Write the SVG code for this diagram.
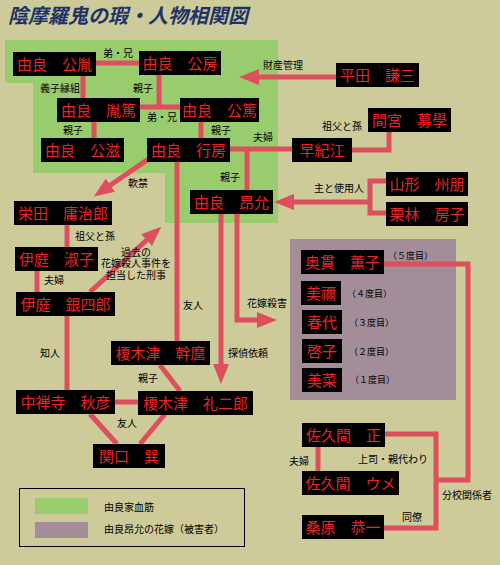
<svg xmlns="http://www.w3.org/2000/svg" width="500" height="565" viewBox="0 0 500 565">
<style>
.bx{fill:#000}
.nt{font-family:"Noto Sans CJK JP","Noto Sans CJK SC",sans-serif;font-size:15px;fill:#E82424;text-anchor:middle}
.lb{font-family:"Noto Sans CJK JP","Noto Sans CJK SC",sans-serif;font-size:10px;fill:#000}
.ml{font-family:"Liberation Sans","Noto Sans CJK JP",sans-serif;font-size:10px;fill:#000;text-anchor:middle}
.ln{fill:none;stroke:#DE4E5E;stroke-width:5}
.ar{marker-end:url(#ah)}
</style>
<defs>
<marker id="ah" viewBox="0 0 20 16" markerWidth="20" markerHeight="16" markerUnits="userSpaceOnUse" refX="1" refY="8" orient="auto">
<path d="M0,0 L20,8 L0,16 z" fill="#DE4E5E"/>
</marker>
</defs>
<rect x="0" y="0" width="500" height="565" fill="#CCCB99"/>
<text x="8" y="23" font-family="'Noto Sans CJK JP',sans-serif" font-size="20" font-weight="bold" font-style="italic" fill="#1E3268">陰摩羅鬼の瑕・人物相関図</text>
<g id="areas">
<polygon points="5,40 278,40 278,223 165,223 165,173 33,173 33,83 5,83" fill="#99CC6C"/>
<rect x="290" y="239" width="166" height="161" fill="#A38D99"/>
</g>
<g id="connectors">
<path class="ln" d="M96,63 H139"/>
<path class="ln" d="M83,76 V98"/>
<path class="ln" d="M159,75 V107 M140,107 H180"/>
<path class="ln" d="M94,122 V138"/>
<path class="ln" d="M201,122 V138"/>
<path class="ln" d="M230,149 H292"/>
<path class="ln" d="M247,149 V190"/>
<path class="ln" d="M352,150 H389 V132"/>
<path class="ln ar" d="M336,77 H258"/>
<path class="ln" d="M177,162 V341"/>
<path class="ln" d="M387,181 H370 V213 H387"/>
<path class="ln ar" d="M370,202 H293"/>
<path class="ln ar" d="M152,156.6 L109.5,185.7"/>
<path class="ln" d="M67,225 V247"/>
<path class="ln" d="M37,270 V292"/>
<path class="ln" d="M67,316 V390"/>
<path class="ln ar" d="M90,292 L147.3,239.5"/>
<path class="ln ar" d="M221,214 V365"/>
<path class="ln ar" d="M237,214 V320 H258"/>
<path class="ln" d="M115,402 H138"/>
<path class="ln" d="M160,365 L180,391"/>
<path class="ln" d="M90,414 L117,444"/>
<path class="ln" d="M165,414 L140,444"/>
<path class="ln" d="M384,264 H468 V480 H436"/>
<path class="ln" d="M385,434 H436 V528 H384"/>
<path class="ln" d="M318,447 V471"/>
</g>
<g id="labels" class="lb">
<text x="103" y="57">弟・兄</text>
<text x="40" y="92">義子縁組</text>
<text x="133" y="92">親子</text>
<text x="147" y="121">弟・兄</text>
<text x="63" y="134">親子</text>
<text x="211" y="134">親子</text>
<text x="253" y="141">夫婦</text>
<text x="263" y="69">財産管理</text>
<text x="322" y="130">祖父と孫</text>
<text x="220" y="181">親子</text>
<text x="314" y="192">主と使用人</text>
<text x="128" y="187">軟禁</text>
<text x="75" y="240">祖父と孫</text>
<text class="ml"><tspan x="136" y="255.5">過去の</tspan><tspan x="136" y="267">花嫁殺人事件を</tspan><tspan x="136" y="278.5">担当した刑事</tspan></text>
<text x="44" y="284">夫婦</text>
<text x="40" y="357">知人</text>
<text x="183" y="309">友人</text>
<text x="247" y="307">花嫁殺害</text>
<text x="228" y="357">探偵依頼</text>
<text x="138" y="382">親子</text>
<text x="117" y="427">友人</text>
<text x="388" y="259" font-size="9">（５度目）</text>
<text x="347" y="297" font-size="9">（４度目）</text>
<text x="349" y="326" font-size="9">（３度目）</text>
<text x="349" y="355" font-size="9">（２度目）</text>
<text x="350" y="383" font-size="9">（１度目）</text>
<text x="289" y="465">夫婦</text>
<text x="358" y="463">上司・親代わり</text>
<text x="442" y="499">分校関係者</text>
<text x="402" y="521">同僚</text>
</g>
<g id="n-kimitane"><rect class="bx" x="13" y="52" width="83" height="24"/><text class="nt" x="54.5" y="69.5">由良　公胤</text></g>
<g id="n-kimifusa"><rect class="bx" x="139" y="51" width="82" height="24"/><text class="nt" x="180" y="68.5">由良　公房</text></g>
<g id="n-tanetoku"><rect class="bx" x="57" y="98" width="83" height="24"/><text class="nt" x="98.5" y="115.5">由良　胤篤</text></g>
<g id="n-kimiatsu"><rect class="bx" x="180" y="98" width="79" height="24"/><text class="nt" x="219.5" y="115.5">由良　公篤</text></g>
<g id="n-kimishige"><rect class="bx" x="41" y="138" width="83" height="24"/><text class="nt" x="82.5" y="155.5">由良　公滋</text></g>
<g id="n-yukifusa"><rect class="bx" x="147" y="138" width="83" height="24"/><text class="nt" x="188.5" y="155.5">由良　行房</text></g>
<g id="n-hirata"><rect class="bx" x="336" y="63" width="83" height="24"/><text class="nt" x="377.5" y="80.5">平田　謙三</text></g>
<g id="n-mamiya"><rect class="bx" x="368" y="108" width="83" height="24"/><text class="nt" x="409.5" y="125.5">間宮　募學</text></g>
<g id="n-sakie"><rect class="bx" x="292" y="138" width="60" height="24"/><text class="nt" x="322" y="155.5">早紀江</text></g>
<g id="n-akimitsu"><rect class="bx" x="190" y="190" width="83" height="24"/><text class="nt" x="231.5" y="207.5">由良　昂允</text></g>
<g id="n-yamagata"><rect class="bx" x="386" y="172" width="82" height="24"/><text class="nt" x="427" y="189.5">山形　州朋</text></g>
<g id="n-kuribayashi"><rect class="bx" x="386" y="202" width="82" height="24"/><text class="nt" x="427" y="219.5">栗林　房子</text></g>
<g id="n-shibata"><rect class="bx" x="14" y="201" width="98" height="24"/><text class="nt" x="63" y="218.5">栄田　庸治郎</text></g>
<g id="n-toshiko"><rect class="bx" x="15" y="247" width="83" height="24"/><text class="nt" x="56.5" y="264.5">伊庭　淑子</text></g>
<g id="n-ginshiro"><rect class="bx" x="16" y="292" width="99" height="24"/><text class="nt" x="65.5" y="309.5">伊庭　銀四郎</text></g>
<g id="n-chuzenji"><rect class="bx" x="16" y="390" width="99" height="24"/><text class="nt" x="65.5" y="407.5">中禅寺　秋彦</text></g>
<g id="n-kanmaro"><rect class="bx" x="111" y="341" width="99" height="24"/><text class="nt" x="160.5" y="358.5">榎木津　幹麿</text></g>
<g id="n-reijiro"><rect class="bx" x="138" y="391" width="115" height="24"/><text class="nt" x="195.5" y="408.5">榎木津　礼二郎</text></g>
<g id="n-sekiguchi"><rect class="bx" x="93" y="444" width="72" height="24"/><text class="nt" x="129" y="461.5">関口　巽</text></g>
<g id="n-okunuki"><rect class="bx" x="301" y="250" width="83" height="24"/><text class="nt" x="342.5" y="267.5">奥貫　薫子</text></g>
<g id="n-mine"><rect class="bx" x="301" y="281" width="40" height="24"/><text class="nt" x="321" y="298.5">美禰</text></g>
<g id="n-haruyo"><rect class="bx" x="302" y="310" width="40" height="24"/><text class="nt" x="322" y="327.5">春代</text></g>
<g id="n-keiko"><rect class="bx" x="302" y="339" width="40" height="24"/><text class="nt" x="322" y="356.5">啓子</text></g>
<g id="n-mina"><rect class="bx" x="302" y="368" width="40" height="24"/><text class="nt" x="322" y="385.5">美菜</text></g>
<g id="n-sakuma-tadashi"><rect class="bx" x="302" y="423" width="83" height="24"/><text class="nt" x="343.5" y="440.5">佐久間　正</text></g>
<g id="n-sakuma-ume"><rect class="bx" x="302" y="471" width="97" height="24"/><text class="nt" x="350.5" y="488.5">佐久間　ウメ</text></g>
<g id="n-kuwabara"><rect class="bx" x="302" y="515" width="82" height="24"/><text class="nt" x="343" y="532.5">桑原　恭一</text></g>
<g id="legend">
<rect x="19.5" y="488.5" width="225" height="58" fill="none" stroke="#000" stroke-width="1"/>
<rect x="35" y="498" width="53" height="16" fill="#99CC6C"/>
<rect x="35" y="522" width="53" height="16" fill="#A38D99"/>
<text class="lb" x="104" y="511" font-size="11">由良家血筋</text>
<text class="lb" x="104" y="533" font-size="11">由良昂允の花嫁（被害者）</text>
</g>
</svg>
